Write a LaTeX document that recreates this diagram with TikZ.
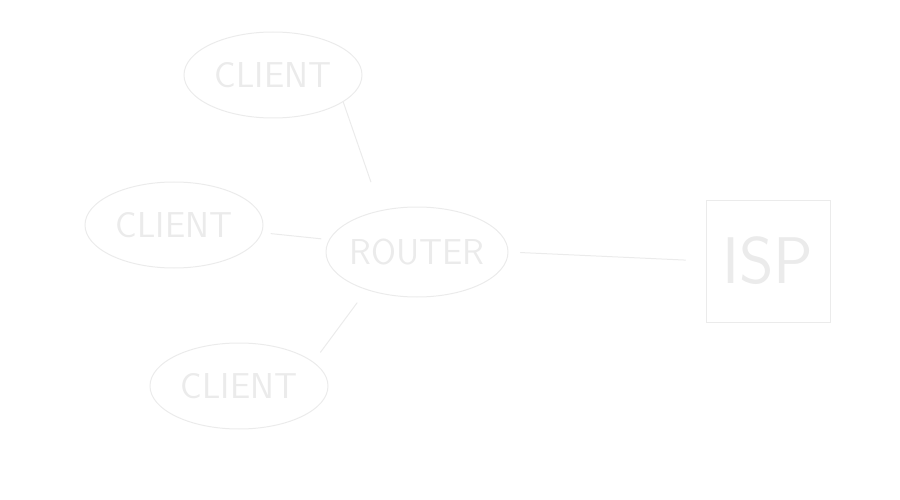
\documentclass[tikz,border=0pt]{standalone}
\usepackage{tikz}
\usetikzlibrary{shapes.geometric}

\definecolor{sketch}{HTML}{EBEBEB}

\begin{document}
\begin{tikzpicture}[
  x=1pt, y=-1pt,
  cloud/.style={draw=sketch, ellipse, line width=1pt, inner sep=0pt, minimum width=178pt, minimum height=86pt, text=sketch, font=\sffamily\fontsize{36}{36}\selectfont},
  isp box/.style={draw=sketch, line width=1pt, minimum width=124pt, minimum height=122pt, text=sketch, font=\sffamily\fontsize{66}{66}\selectfont},
  link/.style={draw=sketch, line width=1pt, line cap=round},
]
  \useasboundingbox (0,0) rectangle (900,500);

  \node[cloud] (ctop) at (273,75) {CLIENT};
  \node[cloud] (cleft) at (174,225) {CLIENT};
  \node[cloud] (cbot) at (239,386) {CLIENT};
  \node[cloud, inner xsep=-4pt, minimum width=182pt, minimum height=90pt] (router) at (417,252) {ROUTER};
  \node[isp box] (isp) at (768,261) {ISP};

  \draw[link, shorten <=30pt] (router.131) -- (ctop.-21);
  \draw[link, shorten <=9pt, shorten >=8pt] (cleft.-5) -- (router.172);
  \draw[link, shorten <=16pt, shorten >=12pt] (router.-143) -- (cbot.18);
  \draw[link, shorten <=12pt, shorten >=20pt] (router.east) -- (isp.west);
\end{tikzpicture}
\end{document}
